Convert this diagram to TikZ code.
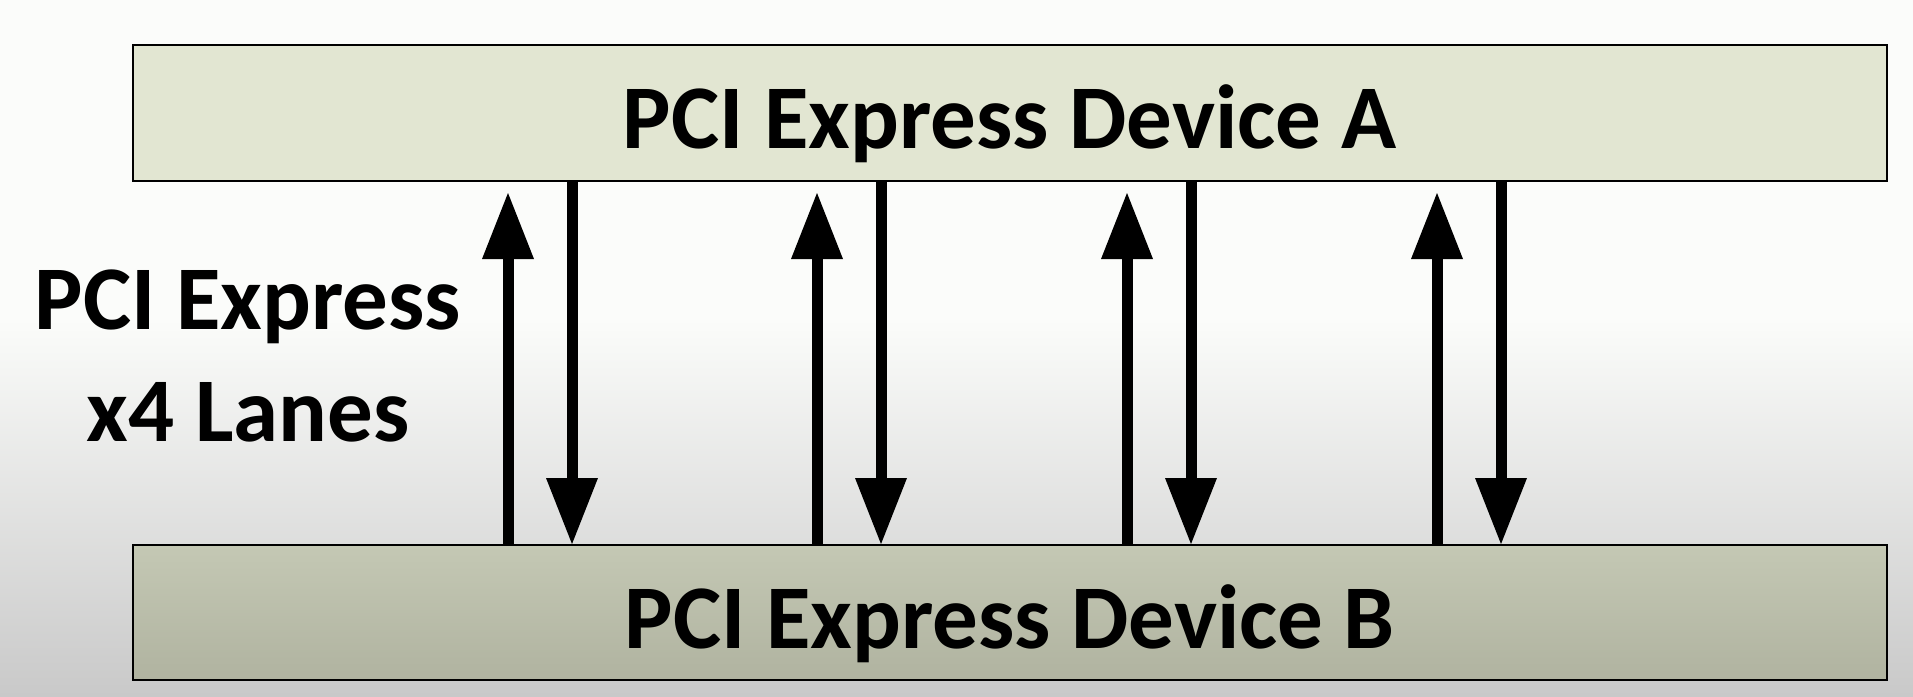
\documentclass[tikz,border=0pt]{standalone}
\usepackage{fontspec}
\setmainfont{Carlito}
\usetikzlibrary{arrows.meta,calc}
\definecolor{boxA}{HTML}{E2E6D2}
\definecolor{boxBtop}{HTML}{C4C8B4}
\definecolor{boxBbot}{HTML}{B0B3A0}
\definecolor{bgtop}{HTML}{FBFCFA}
\definecolor{bgbot}{HTML}{C9C9C9}
\tikzset{
  device/.style={draw=black, line width=2pt, minimum width=1754pt, inner sep=0pt,
    text height=71pt, text depth=0pt,
    font=\fontsize{91}{100}\selectfont\bfseries},
  lane/.style={line width=11pt,
    -{Triangle[width=52pt,length=66pt,line width=0pt]}},
  label/.style={align=center, font=\fontsize{91}{112}\selectfont\bfseries}
}
\begin{document}
\begin{tikzpicture}[x=1pt,y=-1pt]
  % page and background
  \useasboundingbox (0,0) rectangle (1913,696);
  \fill[bgtop] (0,0) rectangle (1913,320);
  \shade[top color=bgtop, bottom color=bgbot] (0,319) rectangle (1913,696);

  % the two devices
  \node[device, fill=boxA, minimum height=136pt] (A) at (1010,113) {PCI Express Device A};
  \node[device, top color=boxBtop, bottom color=boxBbot, minimum height=135pt] (B) at (1010,612.5) {PCI Express Device B};

  % side label
  \node[label] (L) at (248,356) {PCI Express\\x4 Lanes};

  % lane positions
  \coordinate (u1) at (508,0);  \coordinate (d1) at (572,0);
  \coordinate (u2) at (817,0);  \coordinate (d2) at (881,0);
  \coordinate (u3) at (1127,0); \coordinate (d3) at (1191,0);
  \coordinate (u4) at (1437,0); \coordinate (d4) at (1501,0);

  % four lanes, each a pair of opposite links
  \foreach \i in {1,2,3,4}{
    \draw[lane, shorten >=11pt] (B.north -| u\i) -- (A.south -| u\i);
    \draw[lane] (A.south -| d\i) -- (B.north -| d\i);
  }
\end{tikzpicture}
\end{document}
